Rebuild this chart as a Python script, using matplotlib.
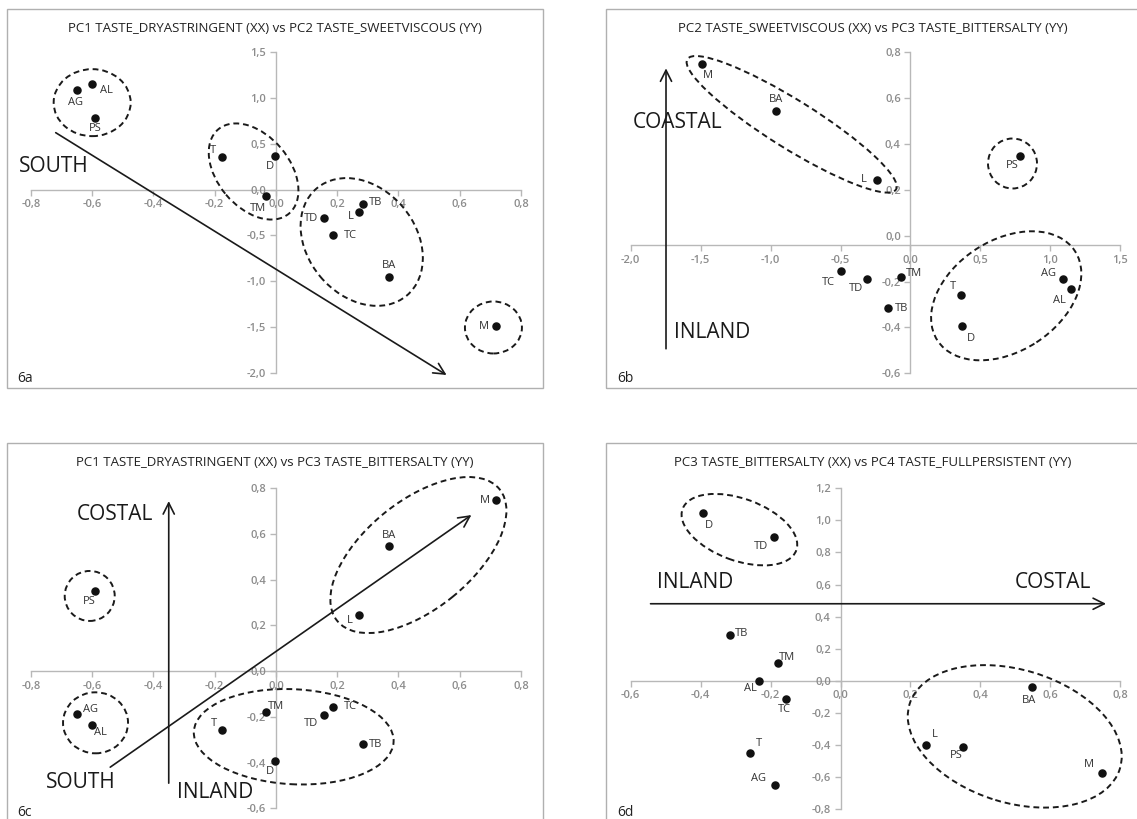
import numpy as np
import matplotlib
matplotlib.use('Agg')
import matplotlib.pyplot as plt
from matplotlib.patches import Ellipse, Rectangle
from matplotlib.ticker import FuncFormatter
from matplotlib.transforms import ScaledTranslation

plt.rcParams['font.family'] = ['Open Sans', 'DejaVu Sans']

# sample codes and their scores on the four taste components
samples = ['AG', 'AL', 'PS', 'T', 'D', 'TM', 'TB', 'L', 'TD', 'TC', 'BA', 'M']
pc1 = [-0.65, -0.60, -0.59, -0.175, -0.004, -0.034, 0.285, 0.27, 0.156, 0.187, 0.37, 0.72]
pc2 = [1.09, 1.15, 0.78, 0.36, 0.37, -0.07, -0.16, -0.24, -0.31, -0.50, -0.96, -1.49]
pc3 = [-0.187, -0.234, 0.349, -0.258, -0.394, -0.18, -0.317, 0.245, -0.19, -0.155, 0.546, 0.748]
pc4 = [-0.651, 0.0, -0.412, -0.452, 1.045, 0.11, 0.284, -0.402, 0.894, -0.116, -0.041, -0.574]

titles = ['PC1 TASTE_DRYASTRINGENT (XX) vs PC2 TASTE_SWEETVISCOUS (YY)',
          'PC2 TASTE_SWEETVISCOUS (XX) vs PC3 TASTE_BITTERSALTY (YY)',
          'PC1 TASTE_DRYASTRINGENT (XX) vs PC3 TASTE_BITTERSALTY (YY)',
          'PC3 TASTE_BITTERSALTY (XX) vs PC4 TASTE_FULLPERSISTENT (YY)']
panel_tags = ['6a', '6b', '6c', '6d']

W, H = 1137, 819
fig = plt.figure(figsize=(W / 100, H / 100), dpi=100)

AXIS_C = '#b8b8b8'
TICK_C = '#8c8c8c'
INK = '#1a1a1a'


def comma(v, pos):
    return f'{round(v, 1) + 0:.1f}'.replace('.', ',')


def make_axes(x0, x1, y0, y1, xlim, ylim, xstep, ystep, xcross=0.0):
    ax = fig.add_axes([x0 / W, 1 - y1 / H, (x1 - x0) / W, (y1 - y0) / H])
    ax.set_xlim(xlim)
    ax.set_ylim(ylim)
    ax.patch.set_visible(False)
    for s in ('top', 'right'):
        ax.spines[s].set_visible(False)
    ax.spines['left'].set_position(('data', 0))
    ax.spines['bottom'].set_position(('data', xcross))
    for s in ('left', 'bottom'):
        ax.spines[s].set_color(AXIS_C)
        ax.spines[s].set_linewidth(1)
        ax.spines[s].set_zorder(0.5)
    ax.set_xticks(np.arange(xlim[0], xlim[1] + xstep / 2, xstep))
    ax.set_yticks(np.arange(ylim[0], ylim[1] + ystep / 2, ystep))
    ax.xaxis.set_major_formatter(FuncFormatter(comma))
    ax.yaxis.set_major_formatter(FuncFormatter(comma))
    ax.tick_params(direction='out', length=4, width=1, color=AXIS_C,
                   labelcolor=TICK_C, labelsize=8, pad=3)
    for lab in ax.get_xticklabels() + ax.get_yticklabels():
        lab.set_fontweight('semibold')
    return ax


def frame(x0, x1, y0, y1):
    fig.add_artist(Rectangle((x0 / W, 1 - y1 / H), (x1 - x0) / W, (y1 - y0) / H,
                             transform=fig.transFigure, fill=False,
                             ec='#b0b0b0', lw=1.0))


def ring(ax, cx, cy, w, h, ang):
    # size in pixels, centre in data units
    e = Ellipse((0, 0), w / 100, h / 100, angle=ang,
                transform=fig.dpi_scale_trans + ScaledTranslation(cx, cy, ax.transData),
                fill=False, ls=(0, (3, 2)), lw=1.4, ec=INK, clip_on=False, zorder=2)
    ax.add_patch(e)


def arrow(ax, start, end):
    ax.annotate('', xy=end, xytext=start, annotation_clip=False,
                arrowprops=dict(arrowstyle='->,head_length=0.8,head_width=0.4',
                                mutation_scale=10, lw=1.2, color=INK,
                                shrinkA=0, shrinkB=0), zorder=3)


def points(ax, xs, ys, offs):
    ax.scatter(xs, ys, s=26, color='#111111', zorder=4, clip_on=False)
    for name, x, y in zip(samples, xs, ys):
        dx, dy = offs[name]
        ax.annotate(name, (x, y), xytext=(dx, dy), textcoords='offset pixels',
                    ha='center', va='center', fontsize=8, color='#333333',
                    annotation_clip=False, zorder=5)


def big(x, y, s):
    fig.text(x / W, 1 - y / H, s, fontsize=15, color=INK, ha='center', va='center')


# panel frames and titles
frame(7, 543, 9, 388)
frame(606, 1140, 9, 388)
frame(7, 543, 443, 830)
frame(606, 1140, 443, 830)
for (tx, ty), t in zip([(275, 28), (873, 28), (275, 462), (873, 462)], titles):
    fig.text(tx / W, 1 - ty / H, t, fontsize=9.5, color='#222222', ha='center', va='center')
for (tx, ty), t in zip([(25, 378), (625, 378), (25, 812), (625, 812)], panel_tags):
    fig.text(tx / W, 1 - ty / H, t, fontsize=10, color='#222222', ha='center', va='center')

# 6a
ax = make_axes(30.9, 521, 52.3, 372.7, (-0.8, 0.8), (-2.0, 1.5), 0.2, 0.5)
ring(ax, -0.60, 0.95, 77, 67, 0)
ring(ax, -0.073, 0.198, 110, 72, -50)
ring(ax, 0.28, -0.572, 140, 108, -50)
ring(ax, 0.71, -1.506, 57, 52, 0)
arrow(ax, (-0.719, 0.622), (0.557, -2.025))
points(ax, pc1, pc2, {'AG': (-1, -13), 'AL': (14, -6), 'PS': (0, -10), 'T': (-9, 6),
                      'D': (-5, -11), 'TM': (-8, -12), 'TB': (12, 2), 'L': (-8, -5),
                      'TD': (-13, -1), 'TC': (17, 0), 'BA': (0, 12), 'M': (-13, 0)})
big(54, 167, 'SOUTH')

# 6b
ax = make_axes(630.6, 1120.4, 52.3, 373.3, (-2.0, 1.5), (-0.6, 0.8), 0.5, 0.2, xcross=-0.04)
ring(ax, -0.849, 0.486, 246, 48, -32)
ring(ax, 0.729, 0.315, 49, 50, 0)
ring(ax, 0.684, -0.262, 164, 111, 33)
arrow(ax, (-1.747, -0.493), (-1.747, 0.73))
points(ax, pc2, pc3, {'M': (6, -11), 'BA': (0, 11), 'L': (-13, 0), 'PS': (-7, -10),
                      'TC': (-12, -11), 'TD': (-11, -9), 'TM': (13, 3), 'TB': (13, 0),
                      'T': (-8, 8), 'D': (9, -12), 'AG': (-15, 5), 'AL': (-12, -11)})
big(678, 123, 'COASTAL')
big(712, 332, 'INLAND')

# 6c
ax = make_axes(30.9, 521, 488.3, 808.3, (-0.8, 0.8), (-0.6, 0.8), 0.2, 0.2)
ring(ax, -0.608, 0.329, 50, 50, 0)
ring(ax, -0.589, -0.226, 65, 61, 0)
ring(ax, 0.465, 0.508, 209, 108, 39)
ring(ax, 0.058, -0.287, 200, 95, -3)
arrow(ax, (-0.35, -0.49), (-0.35, 0.744))
arrow(ax, (-0.541, -0.42), (0.638, 0.683))
points(ax, pc1, pc3, {'M': (-12, 0), 'BA': (0, 11), 'L': (-9, -5), 'PS': (-6, -10),
                      'AG': (14, 4), 'AL': (8, -8), 'T': (-8, 7), 'TM': (10, 6),
                      'TC': (17, 0), 'TD': (-13, -9), 'TB': (12, -1), 'D': (-5, -10)})
big(115, 515, 'COSTAL')
big(81, 783, 'SOUTH')
big(215, 793, 'INLAND')

# 6d
ax = make_axes(630.6, 1120.4, 488.3, 809, (-0.6, 0.8), (-0.8, 1.2), 0.2, 0.2)
ring(ax, -0.289, 0.942, 121, 62, -20)
ring(ax, 0.498, -0.347, 220, 133, -17)
arrow(ax, (-0.543, 0.48), (0.759, 0.48))
points(ax, pc3, pc4, {'D': (6, -12), 'TD': (-13, -9), 'TB': (12, 2), 'TM': (9, 6),
                      'AL': (-8, -8), 'TC': (-2, -10), 'T': (9, 10), 'AG': (-17, 7),
                      'L': (9, 11), 'PS': (-6, -9), 'BA': (-3, -13), 'M': (-13, 8)})
big(695, 583, 'INLAND')
big(1053, 583, 'COSTAL')

fig.savefig('out.png', dpi=100)
